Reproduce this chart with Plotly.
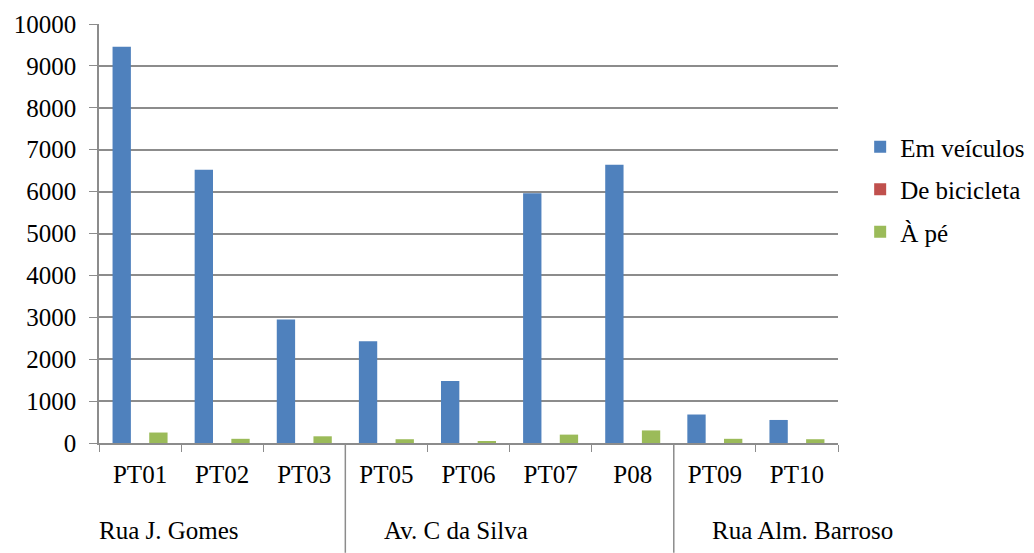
import plotly.graph_objects as go

# pontos de contagem
pontos = ['PT01', 'PT02', 'PT03', 'PT05', 'PT06', 'PT07', 'P08', 'PT09', 'PT10']
veiculos = [9460, 6520, 2950, 2430, 1480, 5960, 6640, 680, 550]
bicicleta = [0, 0, 0, 0, 0, 0, 0, 0, 0]
a_pe = [250, 100, 160, 90, 40, 200, 300, 100, 90]

# ruas e posição (fração da largura do gráfico)
ruas = ['Rua J. Gomes', 'Av. C da Silva', 'Rua Alm. Barroso']
ruas_pos = [-0.003, 0.383, 0.827]
separadores = [2.5, 6.5]

fonte = dict(family='Times New Roman', size=25, color='#000000')
cinza = '#8c8c8c'

fig = go.Figure()
fig.add_trace(go.Bar(x=pontos, y=veiculos, name='Em veículos', marker_color='#4f81bd', legendgroup='a'))
fig.add_trace(go.Bar(x=pontos, y=bicicleta, name='De bicicleta', marker_color='#c0504d', legendgroup='b'))
fig.add_trace(go.Bar(x=pontos, y=a_pe, name='À pé', marker_color='#9bbb59', legendgroup='c'))

##### linhas separadoras e nomes das ruas #####
for s in separadores:
    fig.add_shape(type='line', xref='x', yref='paper', x0=s, x1=s, y0=0, y1=-0.262,
                  line=dict(color=cinza, width=1.5))
for nome, p in zip(ruas, ruas_pos):
    fig.add_annotation(text=nome, xref='paper', yref='paper', x=p, y=-0.208,
                       xanchor='left', yanchor='middle', showarrow=False, font=fonte)

# a página tem 8 px de margem no body
fig.update_layout(
    template='none',
    width=1026, height=545,
    margin=dict(l=91, r=196, t=16, b=110, autoexpand=False),
    paper_bgcolor='white', plot_bgcolor='white',
    font=fonte,
    barmode='group', bargap=0.33, bargroupgap=0,
    legend=dict(x=1.03, y=0.605, xanchor='left', yanchor='middle',
                tracegroupgap=7, font=fonte, itemwidth=30),
    showlegend=True,
)
fig.update_yaxes(range=[0, 10000], dtick=1000, tickformat='d', showgrid=True, gridcolor=cinza,
                 gridwidth=1.5, showline=True, linecolor=cinza, linewidth=1.5, ticks='outside',
                 ticklen=8, tickcolor=cinza, zeroline=False, tickfont=fonte, automargin=False,
                 ticklabelstandoff=8)
fig.update_xaxes(showline=True, linecolor=cinza, linewidth=1.5, ticks='outside', ticklen=7,
                 tickcolor=cinza, tickson='boundaries', showgrid=False, tickfont=fonte,
                 range=[-0.5, 8.5], automargin=False, ticklabelstandoff=8)

fig.write_html('out.html')
